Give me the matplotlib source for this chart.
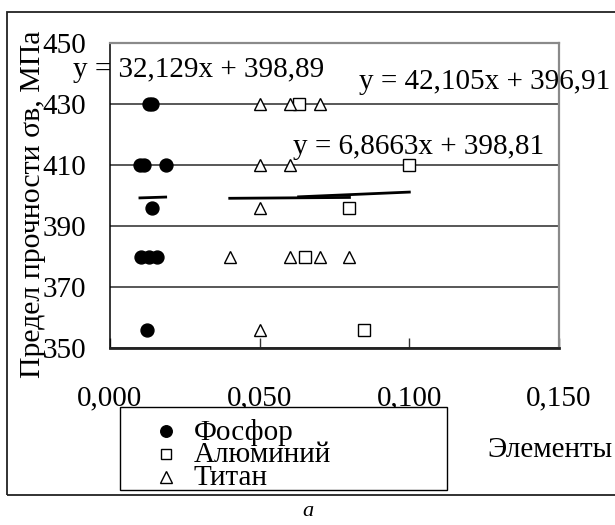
import matplotlib
matplotlib.use("Agg")
import matplotlib.pyplot as plt
from matplotlib.lines import Line2D
from matplotlib.patches import Rectangle
import numpy as np

plt.rcParams['font.family'] = ['Liberation Serif', 'DejaVu Serif']

# ---- data ----
p_x = [0.013, 0.014, 0.010, 0.0115, 0.0186, 0.014, 0.0104, 0.013, 0.0157, 0.0125]
p_y = [430, 430, 410, 410, 410, 396, 380, 380, 380, 356]
al_x = [0.063, 0.100, 0.080, 0.065, 0.085]
al_y = [430, 410, 396, 380, 356]
ti_x = [0.050, 0.060, 0.070, 0.050, 0.060, 0.050, 0.040, 0.060, 0.070, 0.080, 0.050]
ti_y = [430, 430, 430, 410, 410, 396, 380, 380, 380, 380, 356]

trend_p = (32.129, 398.89)
trend_al = (42.105, 396.91)
trend_ti = (6.8663, 398.81)

eq_labels = ["y = 32,129x + 398,89", "y = 42,105x + 396,91", "y = 6,8663x + 398,81"]
series_names = ["Фосфор", "Алюминий", "Титан"]
x_ticks = [0.0, 0.05, 0.10, 0.15]
x_ticklabels = ["0,000", "0,050", "0,100", "0,150"]
y_ticks = [350, 370, 390, 410, 430, 450]
ylabel = "Предел прочности σв, МПа"
xlabel = "Элементы"
caption = "a"

W, H = 615, 525
fig = plt.figure(figsize=(W / 100, H / 100), dpi=100)

def fx(px):
    return px / W

def fy(py):
    return 1 - py / H

ax = fig.add_axes([fx(110), fy(348), fx(559) - fx(110), fy(43) - fy(348)])
ax.set_xlim(0, 0.15)
ax.set_ylim(350, 450)

FS = 21

# grid
ax.set_yticks(y_ticks)
ax.set_yticklabels([str(v) for v in y_ticks], fontsize=FS)
ax.yaxis.grid(True, color='#2a2a2a', linewidth=1.1)
ax.set_axisbelow(True)
ax.tick_params(axis='y', length=0, pad=17)

ax.set_xticks(x_ticks)
ax.set_xticklabels(x_ticklabels, fontsize=FS)
ax.tick_params(axis='x', direction='in', length=7, width=1, color='#333333', pad=27)

for s in ['top', 'right']:
    ax.spines[s].set_color('#8a8a8a')
    ax.spines[s].set_linewidth(1.6)
ax.spines['left'].set_color('black')
ax.spines['left'].set_linewidth(1.1)
ax.spines['bottom'].set_color('#222222')
ax.spines['bottom'].set_linewidth(2.0)

# trend lines
for (k, b), xs in [(trend_p, p_x), (trend_ti, ti_x), (trend_al, al_x)]:
    xx = np.array([min(xs), max(xs)])
    ax.plot(xx, k * xx + b, color='black', linewidth=2.0, zorder=3)

# markers
ax.plot(p_x, p_y, linestyle='none', marker='o', markersize=9.3,
        markerfacecolor='black', markeredgecolor='black', zorder=4, clip_on=False)
ax.plot(al_x, al_y, linestyle='none', marker='s', markersize=8.3,
        markerfacecolor='white', markeredgecolor='black', markeredgewidth=1.0, zorder=4, clip_on=False)
ax.plot(ti_x, ti_y, linestyle='none', marker='^', markersize=9.2,
        markerfacecolor='white', markeredgecolor='black', markeredgewidth=1.0, zorder=4, clip_on=False)

# equations
fig.text(fx(73), fy(70), eq_labels[0], fontsize=FS, ha='left', va='center')
fig.text(fx(359), fy(82), eq_labels[1], fontsize=FS, ha='left', va='center')
fig.text(fx(293), fy(147), eq_labels[2], fontsize=FS, ha='left', va='center')

# axis labels
fig.text(fx(33), fy(204), ylabel, fontsize=21.5, rotation=90, ha='center', va='center')
fig.text(fx(487), fy(450), xlabel, fontsize=FS, ha='left', va='center')
fig.text(fx(308), fy(512), caption, fontsize=16, style='italic', ha='center', va='center')

# outer frame
fig.add_artist(Rectangle((fx(7), fy(495)), 1.2, fy(12) - fy(495), transform=fig.transFigure,
                         fill=False, edgecolor='#222222', linewidth=1.3))

# legend (manual)
fig.add_artist(Rectangle((fx(120), fy(490)), fx(447) - fx(120), fy(407) - fy(490),
                         transform=fig.transFigure, facecolor='white', edgecolor='black', linewidth=1.0))
leg_markers = [('o', 'black', 8.3), ('s', 'white', 7.5), ('^', 'white', 8.0)]
leg_y = [431, 454, 477]
for name, (m, fc, ms), py in zip(series_names, leg_markers, leg_y):
    fig.add_artist(Line2D([fx(166)], [fy(py)], transform=fig.transFigure, linestyle='none',
                          marker=m, markersize=ms, markerfacecolor=fc, markeredgecolor='black',
                          markeredgewidth=1.0))
    fig.text(fx(194), fy(py + 1), name, fontsize=FS, ha='left', va='center')

fig.savefig("out.png", dpi=100)
